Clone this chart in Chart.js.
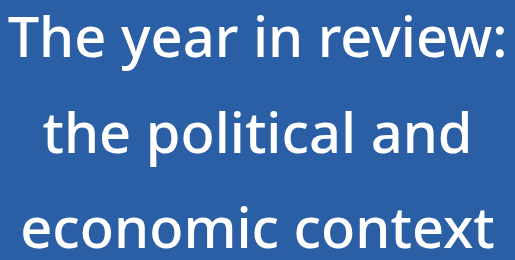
<!DOCTYPE html>
<html>
<head>
<meta charset="utf-8">
<script src="https://cdn.jsdelivr.net/npm/chart.js@4"></script>
<style>
  html, body { margin: 0; padding: 0; background: #2a5fa5; }
  #wrap { width: 515px; height: 260px; position: relative; }
</style>
</head>
<body>
<div id="wrap"><canvas id="titleChart"></canvas></div>
<script>
// Heading text, one entry per line
var titleLines = ['The year in review:', 'the political and', 'economic context'];
var categories = [];
var values = [];

var ctx = document.getElementById('titleChart').getContext('2d');
var myChart = new Chart(ctx, {
    type: 'bar',
    data: {
        labels: categories,
        datasets: [{ data: values }]
    },
    options: {
        responsive: true,
        maintainAspectRatio: false,
        animation: false,
        layout: { padding: 0 },
        plugins: {
            legend: { display: false },
            tooltip: { enabled: false },
            title: {
                display: true,
                text: titleLines,
                color: '#ffffff',
                align: 'center',
                padding: { top: -7, bottom: 0 },
                font: { family: 'Noto Sans', size: 56, weight: '500', lineHeight: 1.71 }
            }
        },
        scales: {
            x: { display: false },
            y: { display: false }
        }
    }
});
</script>
</body>
</html>
